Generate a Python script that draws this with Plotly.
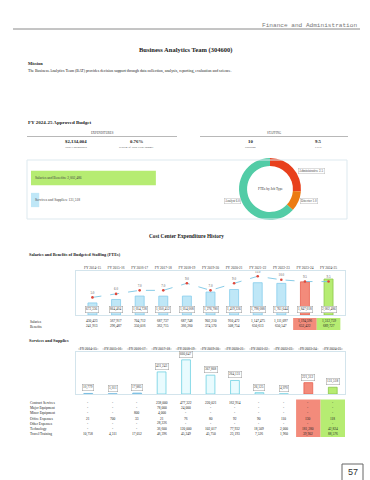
import plotly.graph_objects as go

W, H = 370, 480

# ---------------- data ----------------
fiscal_years = ["FY 2014-15", "FY 2015-16", "FY 2016-17", "FY 2017-18", "FY 2018-19", "FY 2019-20",
                "FY 2020-21", "FY 2021-22", "FY 2022-23", "FY 2023-24", "FY 2024-25"]
salaries = [430423, 567917, 704712, 687737, 687748, 902210, 910472, 1147475, 1111097, 1194596, 1312759]
benefits = [241913, 296487, 350016, 362715, 366260, 374570, 508754, 650613, 650547, 652422, 689727]
fte = [5.0, 6.0, 7.0, 7.0, 9.0, 7.0, 9.0, 11.0, 10.0, 9.5, 9.5]

service_rows = ["Contract Services", "Major Equipment", "Minor Equipment", "Office Expenses",
                "Other Expenses", "Technology", "Travel/Training"]
contract_services = [None, None, None, 238000, 477322, 220021, 162914, None, None, None, None]
major_equipment = [None, None, None, 78000, 24000, None, None, None, None, None, None]
minor_equipment = [None, None, 800, 4000, None, None, None, None, None, None, None]
office_expenses = [21, 700, 33, 21, 76, 80, 92, 90, 110, 130, 118]
other_expenses = [None, None, None, 28226, None, None, None, None, None, None, None]
technology = [None, None, None, 36600, 120000, 102017, 77932, 18509, 2000, 181280, 42824]
travel_training = [10758, 4311, 17052, 46396, 45249, 45750, 23193, 7526, 1960, 39902, 88576]

budget_categories = ["Services and Supplies", "Salaries and Benefits"]
budget_values = [131518, 2002486]
total_expenditures = "$2,134,004"
percent_of_budget = "0.76%"
positions = "10"
ftes_total = "9.5"

job_types = ["Administrative", "Director", "Analyst"]
job_ftes = [2.5, 1.0, 6.0]

# ---------------- helpers ----------------
def px(x):
    return x / W

def py(y):
    return 1 - y / H

SERIF = "Liberation Serif"
annotations = []
shapes = []

def txt(text, x, y, size, bold=False, xanchor="left", color="#222", family=SERIF, **kw):
    t = f"<b>{text}</b>" if bold else text
    d = dict(text=t, x=px(x), y=py(y), xref="paper", yref="paper", showarrow=False,
             xanchor=xanchor, yanchor="middle", font=dict(size=size, color=color, family=family))
    d.update(kw)
    annotations.append(d)

def fmt(v):
    return "-" if v is None else f"{v:,}"

service_data = [contract_services, major_equipment, minor_equipment, office_expenses,
                other_expenses, technology, travel_training]
totals = [s + b for s, b in zip(salaries, benefits)]
service_totals = [sum(col[i] or 0 for col in service_data) for i in range(len(fiscal_years))]

fig = go.Figure()

# ---------------- page header ----------------
txt("Finance and Administration", 359, 25, 6.1, xanchor="right", color="#777", family="Liberation Mono")
shapes.append(dict(type="line", xref="paper", yref="paper", x0=px(13), x1=px(360), y0=py(29), y1=py(29),
                   line=dict(color="#8a8a8a", width=1)))
txt("Business Analytics Team (304600)", 185, 50, 6.5, bold=True, xanchor="center")
txt("Mission", 26, 64, 4.4, bold=True)
txt("The Business Analytics Team (BAT) provides decision support through data collection, analysis, "
    "reporting, evaluation and science.", 26, 71, 3.9)
txt("FY 2024-25 Approved Budget", 26, 123, 5.0, bold=True)

# summary block
txt("EXPENDITURES", 102, 133, 3.0, xanchor="center", color="#444")
txt("STAFFING", 274, 133, 3.0, xanchor="center", color="#444")
for x0, x1 in [(27, 177), (200, 348)]:
    shapes.append(dict(type="line", xref="paper", yref="paper", x0=px(x0), x1=px(x1), y0=py(136.5), y1=py(136.5),
                       line=dict(color="#b8b8b8", width=1)))
for val, lab, x in [(total_expenditures, "Total Expenditures", 76), (percent_of_budget, "Percent of Total Gen'l Budget", 136),
                    (positions, "Positions", 250), (ftes_total, "FTEs", 318)]:
    txt(val, x, 141.5, 4.8, bold=True, xanchor="center")
    txt(lab, x, 147, 2.9, xanchor="center", color="#444")

# panel box
shapes.append(dict(type="rect", xref="paper", yref="paper", x0=px(27), x1=px(347), y0=py(219), y1=py(160),
                   line=dict(color="#dde9ef", width=1)))

# ---------------- horizontal budget bars ----------------
fig.add_trace(go.Bar(
    y=budget_categories, x=budget_values, orientation="h", xaxis="x", yaxis="y",
    marker=dict(color=["#bfe7f7", "#b6ec72"], line=dict(width=0)), hoverinfo="skip", showlegend=False))
for cat, v in zip(budget_categories, budget_values):
    annotations.append(dict(text=f"{cat}: {v:,}", x=0, y=cat, xref="x", yref="y", xanchor="left",
                            xshift=2, showarrow=False, font=dict(size=3.6, color="#444", family=SERIF)))

# ---------------- donut ----------------
fig.add_trace(go.Pie(
    labels=job_types, values=job_ftes, hole=0.74, sort=False, direction="clockwise", rotation=0,
    marker=dict(colors=["#e8401d", "#ec7b12", "#52cca6"], line=dict(color="white", width=0)),
    textinfo="none", hoverinfo="skip", showlegend=False,
    domain=dict(x=[px(239), px(301)], y=[py(220), py(158)])))
txt("FTEs by Job Type", 270, 189, 3.4, xanchor="center", color="#333")
for (name, v), (x, y, xa) in zip(zip(job_types, job_ftes), [(298, 171, "left"), (300, 201, "left"), (241, 201, "right")]):
    txt(f"{name} {v:.1f}", x, y, 3.2, xanchor=xa, color="#444", bgcolor="white",
        bordercolor="#bbbbbb", borderwidth=0.5, borderpad=0.6)

# ---------------- expenditure history ----------------
txt("Cost Center Expenditure History", 187, 236, 5.3, bold=True, xanchor="center")
txt("Salaries and Benefits of Budgeted Staffing (FTEs)", 27, 254, 4.3, bold=True)

bar_fill = ["#bfe7f7"] * 9 + ["#f38b7b", "#b6ec72"]
bar_line = ["#86cdec"] * 9 + ["#e8614f", "#8cc84a"]

fig.add_trace(go.Bar(
    x=fiscal_years, y=totals, xaxis="x2", yaxis="y2", width=0.38,
    marker=dict(color=bar_fill, line=dict(color=bar_line, width=0.8)), hoverinfo="skip", showlegend=False))
fig.add_trace(go.Scatter(
    x=fiscal_years, y=fte, xaxis="x2", yaxis="y3", mode="lines+markers+text",
    line=dict(color="#7cc6e4", width=0.9, dash="dash"),
    marker=dict(color="#e0473a", size=2.6),
    text=[f"{v:.1f}" for v in fte], textposition="top center",
    textfont=dict(size=3.2, color="#555", family=SERIF), hoverinfo="skip", showlegend=False))
for fy, t in zip(fiscal_years, totals):
    annotations.append(dict(text=f"{t:,}", x=fy, y=0, xref="x2", yref="y2", yanchor="bottom", yshift=2,
                            showarrow=False, bgcolor="white", bordercolor="#9a9a9a", borderwidth=0.5,
                            borderpad=0.6, font=dict(size=3.4, color="#333", family=SERIF)))

# salary table
for lab, row, y in [("Salaries", salaries, 321.5), ("Benefits", benefits, 326.5)]:
    txt(lab, 28, y, 3.5)
    for fy, v in zip(fiscal_years, row):
        annotations.append(dict(text=fmt(v), x=fy, y=py(y), xref="x2", yref="paper", showarrow=False,
                                yanchor="middle", font=dict(size=3.5, color="#222", family=SERIF)))
for i, col in [(9, "#f38b7b"), (10, "#b6ec72")]:
    shapes.append(dict(type="rect", xref="x2", yref="paper", x0=i - 0.5, x1=i + 0.5, y0=py(330), y1=py(318),
                       fillcolor=col, line=dict(width=0), layer="below"))

# ---------------- services and supplies ----------------
txt("Services and Supplies", 27, 340, 4.3, bold=True)
svc_fill = ["#9fd3ef"] * 3 + ["#e9fbfe"] * 6 + ["#f38b7b", "#b6ec72"]
svc_line = ["#6fb9e0"] * 3 + ["#6fd0e2"] * 6 + ["#e8614f", "#8cc84a"]
fig.add_trace(go.Bar(
    x=fiscal_years, y=service_totals, xaxis="x3", yaxis="y4", width=0.36,
    marker=dict(color=svc_fill, line=dict(color=svc_line, width=0.8)), hoverinfo="skip", showlegend=False))
for fy, t in zip(fiscal_years, service_totals):
    annotations.append(dict(text=f"{t:,}", x=fy, y=t, xref="x3", yref="y4", yanchor="bottom", yshift=2,
                            showarrow=False, bgcolor="white", bordercolor="#9a9a9a", borderwidth=0.5,
                            borderpad=0.6, font=dict(size=3.4, color="#333", family=SERIF)))
for i in range(len(fiscal_years)):
    shapes.append(dict(type="line", xref="x3", yref="paper", x0=i - 0.42, x1=i + 0.42, y0=py(349), y1=py(349),
                       line=dict(color="#777", width=0.4)))

row_y = [403, 408.2, 413.4, 418.6, 423.8, 429, 434.2]
for i, col in [(9, "#f38b7b"), (10, "#b6ec72")]:
    shapes.append(dict(type="rect", xref="x3", yref="paper", x0=i - 0.5, x1=i + 0.5, y0=py(437), y1=py(399.5),
                       fillcolor=col, line=dict(width=0), layer="below"))
for lab, row, y in zip(service_rows, service_data, row_y):
    txt(lab, 28, y, 3.5)
    for fy, v in zip(fiscal_years, row):
        annotations.append(dict(text=fmt(v), x=fy, y=py(y), xref="x3", yref="paper", showarrow=False,
                                yanchor="middle", font=dict(size=3.5, color="#222", family=SERIF)))

# page number
shapes.append(dict(type="path", xref="paper", yref="paper",
                   path=f"M {px(342)} {py(481)} L {px(342)} {py(464)} L {px(363)} {py(464)} L {px(363)} {py(481)}",
                   line=dict(color="#666", width=1)))
txt("57", 352.5, 471.5, 9, xanchor="center", color="#333", family="Liberation Sans")

axis_off = dict(visible=False, fixedrange=True)
box = dict(showline=True, mirror=True, linecolor="#d3e4ec", linewidth=1, showgrid=False, zeroline=False)

fig.update_layout(
    width=W, height=H, margin=dict(l=0, r=0, t=0, b=0),
    paper_bgcolor="white", plot_bgcolor="rgba(0,0,0,0)",
    barmode="overlay", bargap=0.35,
    xaxis=dict(domain=[px(31), px(190)], range=[0, 2550000], anchor="y", **axis_off),
    yaxis=dict(domain=[py(211), py(167)], anchor="x", categoryorder="array",
               categoryarray=budget_categories, **axis_off),
    xaxis2=dict(domain=[px(76), px(345)], anchor="y2", side="top", type="category",
                tickfont=dict(size=3.5, color="#333", family=SERIF), ticks="", **box),
    yaxis2=dict(domain=[py(315), py(271)], anchor="x2", range=[0, 2450000], showticklabels=False, ticks="", **box),
    yaxis3=dict(overlaying="y2", range=[0, 12.5], visible=False),
    xaxis3=dict(domain=[px(76), px(345)], anchor="y4", side="top", type="category",
                tickfont=dict(size=3.5, color="#333", family=SERIF), ticks="", **box),
    yaxis4=dict(domain=[py(394), py(352)], anchor="x3", range=[0, 820000], showticklabels=False, ticks="", **box),
    annotations=annotations, shapes=shapes,
)

fig.write_html("out.html", config={"displayModeBar": False},
               post_script="document.body.style.margin='0px';document.body.style.overflow='hidden';")
